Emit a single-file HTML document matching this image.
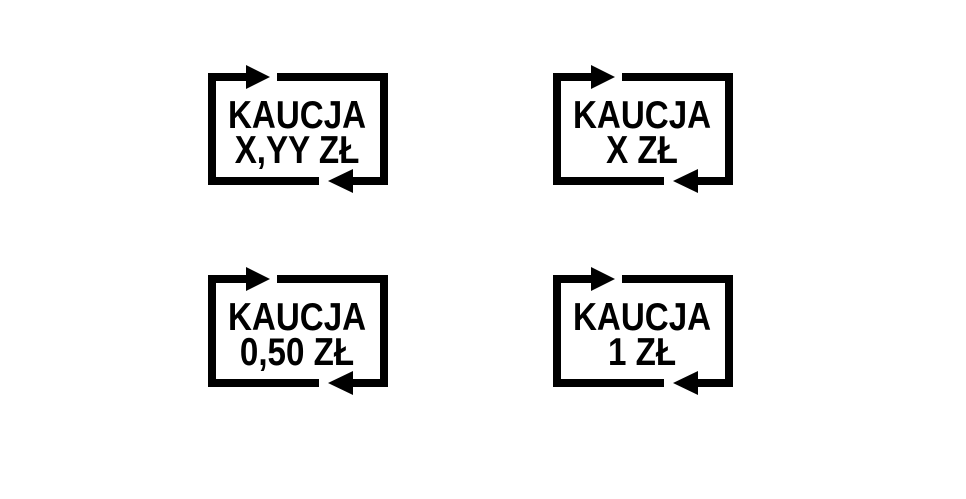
<!DOCTYPE html>
<html><head><meta charset="utf-8"><style>html,body{margin:0;padding:0;background:#fff}svg{display:block}</style></head>
<body>
<svg width="966" height="499" viewBox="0 0 966 499" xmlns="http://www.w3.org/2000/svg">
<defs>
<g id="frame" fill="#000">
<rect x="208" y="73" width="40" height="8"/>
<polygon points="246,65 270,77 246,89"/>
<rect x="277" y="73" width="111" height="8"/>
<rect x="208" y="73" width="8" height="112"/>
<rect x="380" y="73" width="8" height="112"/>
<rect x="208" y="177" width="111" height="8"/>
<polygon points="353,169 328,181 353,193"/>
<rect x="351" y="177" width="37" height="8"/>
</g>
</defs>
<g font-family="Liberation Sans, sans-serif" font-weight="bold" font-size="39" text-anchor="middle" fill="#000">
<use href="#frame"/>
<g transform="translate(297,0) scale(0.85,1)"><text x="0" y="128">KAUCJA</text><text x="0" y="163">X,YY ZŁ</text></g>
<use href="#frame" transform="translate(345,0)"/>
<g transform="translate(642,0) scale(0.85,1)"><text x="0" y="128">KAUCJA</text><text x="0" y="163">X ZŁ</text></g>
<use href="#frame" transform="translate(0,202)"/>
<g transform="translate(297,202) scale(0.85,1)"><text x="0" y="128">KAUCJA</text><text x="0" y="163">0,50 ZŁ</text></g>
<use href="#frame" transform="translate(345,202)"/>
<g transform="translate(642,202) scale(0.85,1)"><text x="0" y="128">KAUCJA</text><text x="0" y="163">1 ZŁ</text></g>
</g>
</svg>
</body></html>
